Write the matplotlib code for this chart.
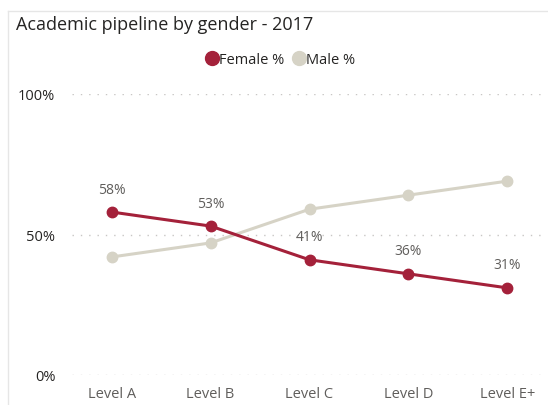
import numpy as np
import matplotlib.pyplot as plt
from matplotlib.lines import Line2D

# data
levels = ["Level A", "Level B", "Level C", "Level D", "Level E+"]
female = [58, 53, 41, 36, 31]
male = [42, 47, 59, 64, 69]
ytick_vals = [0, 50, 100]

col_f = "#A4213A"
col_m = "#D6D3C6"
txt = "#605E5C"

plt.rcParams["font.family"] = ["Open Sans", "DejaVu Sans"]

fig = plt.figure(figsize=(5.48, 4.06), dpi=100)
W, H = 548, 406

# card border (left + top)
fig.add_artist(Line2D([8 / W, 8 / W], [0, 1 - 12 / H], transform=fig.transFigure,
                      color="#E6E6E6", lw=1))
fig.add_artist(Line2D([8 / W, 1], [1 - 12 / H, 1 - 12 / H], transform=fig.transFigure,
                      color="#E6E6E6", lw=1))

fig.text(16 / W, 1 - 25 / H, "Academic pipeline by gender - 2017",
         fontsize=13, color="#252423", va="center", ha="left")

ax = fig.add_axes([72 / W, 1 - 376 / H, (547 - 72) / W, (376 - 95) / H])
x = np.arange(len(levels))

ax.plot(x, male, color=col_m, lw=2.2, marker="o", ms=7.5, zorder=3)
ax.plot(x, female, color=col_f, lw=2.2, marker="o", ms=7.5, zorder=4)

for xi, v in zip(x, female):
    ax.text(xi, v + 5.5, f"{v}%", ha="center", va="bottom", fontsize=10, color=txt)

ax.set_xlim(-0.4, 4.4)
ax.set_ylim(0, 100)
ax.set_yticks(ytick_vals)
ax.set_yticklabels([f"{v}%" for v in ytick_vals])
ax.set_xticks(x)
ax.set_xticklabels(levels)
ax.tick_params(axis="y", length=0, labelsize=10.5, colors="#252423", pad=12)
ax.tick_params(axis="x", length=0, labelsize=10.5, labelcolor=txt, pad=8)
for v in ytick_vals:
    ax.axhline(v, color="#C8C6C4", lw=1, ls=(0, (1, 5)), zorder=1)
for s in ax.spines.values():
    s.set_visible(False)
ax.patch.set_alpha(0)

# legend
handles = [Line2D([], [], marker="o", ls="", color=col_f, ms=10),
           Line2D([], [], marker="o", ls="", color=col_m, ms=10)]
fig.legend(handles, ["Female %", "Male %"], loc="center",
           bbox_to_anchor=(280 / W, 1 - 61 / H), ncol=2, frameon=False,
           fontsize=10.5, handletextpad=0.0, columnspacing=0.5,
           labelcolor="#252423", handlelength=1.0)

fig.savefig("out.png", dpi=100)
